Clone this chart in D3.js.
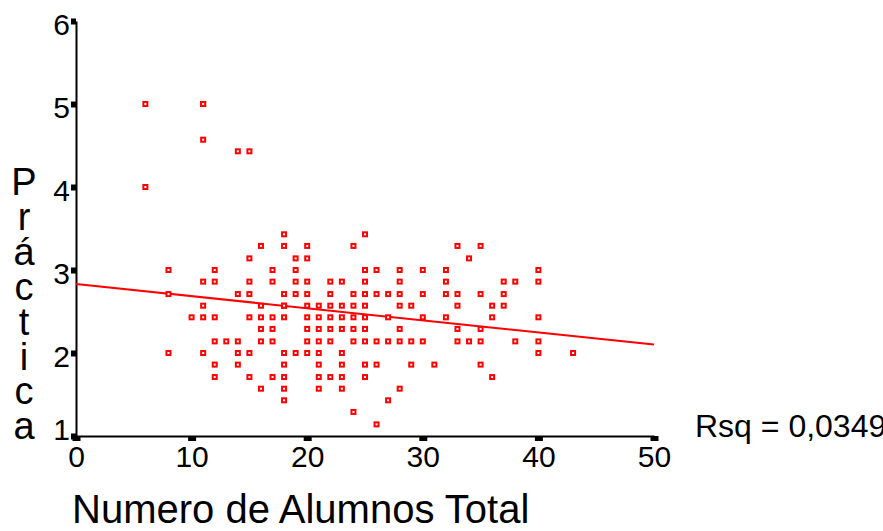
<!DOCTYPE html>
<html>
<head>
<meta charset="utf-8">
<script src="https://cdn.jsdelivr.net/npm/d3@7"></script>
<style>
  body { margin: 0; background: #fff; }
  svg { display: block; font-family: "Liberation Sans", Arial, sans-serif; }
</style>
</head>
<body>
<div id="chart"></div>
<script>
/* CONSTANTS AND GLOBALS */
const width = 883,
  height = 531;

/* DATA */
// Práctica levels (y) and the Numero de Alumnos Total (x) of every case at that level
const practicaLevels = [5.00, 4.57, 4.43, 4.00, 3.43, 3.29, 3.14, 3.00, 2.86, 2.71, 2.57, 2.43, 2.29, 2.14, 2.00, 1.86, 1.71, 1.57, 1.43, 1.29, 1.14];
const alumnosByLevel = [
  [6, 11, 11],
  [11],
  [14, 15],
  [6],
  [18, 25],
  [16, 18, 20, 24, 33, 35],
  [15, 19, 20, 34],
  [8, 12, 17, 19, 25, 26, 28, 30, 32, 40],
  [11, 12, 15, 17, 19, 20, 22, 23, 25, 28, 32, 37, 38, 40],
  [8, 14, 15, 18, 19, 20, 22, 24, 25, 26, 27, 28, 30, 32, 33, 35, 37],
  [11, 16, 18, 18, 20, 21, 22, 23, 24, 25, 28, 29, 33, 36, 37],
  [10, 11, 12, 15, 16, 17, 18, 20, 21, 22, 23, 24, 25, 27, 30, 32, 36, 40],
  [16, 17, 20, 21, 22, 23, 24, 25, 28, 33, 35],
  [12, 13, 14, 16, 17, 20, 21, 22, 24, 25, 26, 27, 28, 29, 30, 33, 34, 35, 38, 40],
  [8, 11, 14, 15, 18, 19, 20, 21, 23, 40, 43],
  [12, 14, 18, 21, 23, 25, 26, 29, 31, 35],
  [12, 15, 17, 18, 21, 22, 23, 25, 36],
  [16, 18, 21, 23, 28],
  [18, 27],
  [24],
  [26]
];
const xTicks = [0, 10, 20, 30, 40, 50];
const yTicks = [1, 2, 3, 4, 5, 6];
const xTitle = "Numero de Alumnos Total";
const yTitle = "Práctica";
const rsqLabel = "Rsq = 0,0349";

// flatten to points
const points = [];
practicaLevels.forEach((lvl, i) => {
  alumnosByLevel[i].forEach(x => points.push({ x: x, y: lvl }));
});

// least squares fit
const mx = d3.mean(points, d => d.x),
  my = d3.mean(points, d => d.y);
const slope = d3.sum(points, d => (d.x - mx) * (d.y - my)) / d3.sum(points, d => (d.x - mx) ** 2);
const intercept = my - slope * mx;

/* SCALES */
const xScale = d3.scaleLinear().domain([0, 50]).range([76, 654]);
const yScale = d3.scaleLinear().domain([1, 6]).range([436, 21]);

const svg = d3.select("#chart")
  .append("svg")
  .attr("width", width)
  .attr("height", height);

/* AXES */
const yAxis = svg.append("g")
  .attr("transform", `translate(${xScale(0)},0)`)
  .call(d3.axisLeft(yScale).tickValues(yTicks).tickSize(0).tickSizeOuter(0).tickPadding(6).tickFormat(d3.format("d")));

yAxis.select(".domain").attr("stroke", "#000").attr("stroke-width", 2);
yAxis.selectAll(".tick text")
  .attr("font-size", 30)
  .attr("fill", "#000")
  .attr("font-family", "Liberation Sans, Arial, sans-serif")
  .attr("dy", d => d === 1 ? "0.1em" : "0.46em");
yAxis.selectAll(".tick")
  .append("rect")
  .attr("x", -5)
  .attr("y", -3)
  .attr("width", 5)
  .attr("height", 6)
  .attr("fill", "#000");

const xAxis = svg.append("g")
  .attr("transform", `translate(0,${yScale(1)})`)
  .call(d3.axisBottom(xScale).tickValues(xTicks).tickSize(0).tickSizeOuter(0).tickPadding(10).tickFormat(d3.format("d")));

xAxis.select(".domain").attr("stroke", "#000").attr("stroke-width", 2);
xAxis.selectAll(".tick text")
  .attr("font-size", 30)
  .attr("fill", "#000")
  .attr("font-family", "Liberation Sans, Arial, sans-serif");
xAxis.selectAll(".tick")
  .append("rect")
  .attr("x", -4)
  .attr("y", 0)
  .attr("width", 8)
  .attr("height", 5)
  .attr("fill", "#000");

/* TITLES */
svg.append("text")
  .attr("x", 72)
  .attr("y", 523)
  .attr("font-size", 40)
  .text(xTitle);

svg.append("g")
  .selectAll("text")
  .data(yTitle.split(""))
  .join("text")
  .attr("x", 24)
  .attr("y", (d, i) => 195 + i * 34.9)
  .attr("text-anchor", "middle")
  .attr("font-size", 38)
  .text(d => d);

svg.append("text")
  .attr("x", 695)
  .attr("y", 437)
  .attr("font-size", 32)
  .text(rsqLabel);

/* FIT LINE */
svg.append("line")
  .attr("x1", xScale(0))
  .attr("y1", yScale(intercept))
  .attr("x2", xScale(50))
  .attr("y2", yScale(intercept + slope * 50))
  .attr("stroke", "#ff0000")
  .attr("stroke-width", 2);

/* POINTS */
svg.append("g")
  .selectAll("rect")
  .data(points)
  .join("rect")
  .attr("x", d => xScale(d.x) - 2)
  .attr("y", d => yScale(d.y) - 2)
  .attr("width", 4)
  .attr("height", 4)
  .attr("fill", "#fff")
  .attr("stroke", "#ff0000")
  .attr("stroke-width", 2);
</script>
</body>
</html>
